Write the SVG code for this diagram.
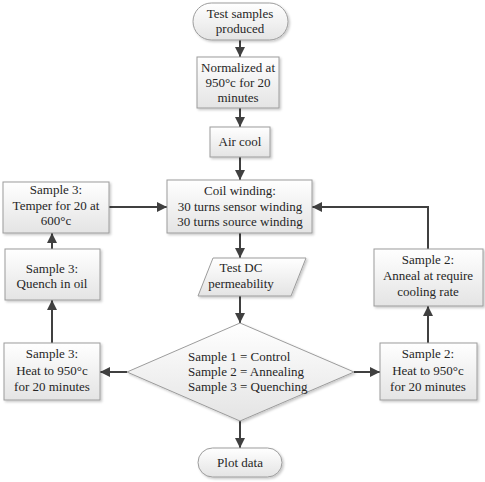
<svg xmlns="http://www.w3.org/2000/svg" width="485" height="482" viewBox="0 0 485 482" font-family="'Liberation Serif', 'DejaVu Serif', serif">
  <defs>
    <linearGradient id="boxFill" x1="0" y1="0" x2="0" y2="1">
      <stop offset="0" stop-color="#ffffff"/>
      <stop offset="1" stop-color="#e4e4e4"/>
    </linearGradient>
    <filter id="shadow" x="-10%" y="-10%" width="130%" height="130%">
      <feDropShadow dx="1.5" dy="1.5" stdDeviation="1" flood-color="#000" flood-opacity="0.22"/>
    </filter>
    <marker id="arrow" viewBox="0 0 10 10" refX="10" refY="5" markerWidth="5" markerHeight="5" orient="auto" markerUnits="strokeWidth">
      <path d="M0,0 L10,5 L0,10 z" fill="#404040"/>
    </marker>
  </defs>
  <style>
    .shape { fill: url(#boxFill); stroke: #9c9c9c; stroke-width: 1; filter: url(#shadow); }
    text { font-family: 'Liberation Serif', 'DejaVu Serif', serif; font-size: 13px; fill: #262626; text-anchor: middle; }
    text.left { text-anchor: start; }
    .conn { fill: none; stroke: #404040; stroke-width: 2; marker-end: url(#arrow); }
  </style>

  <rect width="485" height="482" fill="#ffffff"/>

  <!-- connectors -->
  <g id="connectors">
    <line class="conn" x1="240" y1="40" x2="240" y2="57"/>
    <line class="conn" x1="240" y1="108" x2="240" y2="127"/>
    <line class="conn" x1="240" y1="157" x2="240" y2="180"/>
    <line class="conn" x1="240" y1="233" x2="240" y2="258"/>
    <line class="conn" x1="240" y1="296" x2="240" y2="323"/>
    <line class="conn" x1="240" y1="421" x2="240" y2="448"/>
    <line class="conn" x1="127" y1="372" x2="100" y2="372"/>
    <line class="conn" x1="354" y1="372" x2="380" y2="372"/>
    <line class="conn" x1="52" y1="343" x2="52" y2="300"/>
    <line class="conn" x1="52" y1="249" x2="52" y2="233"/>
    <line class="conn" x1="109" y1="207" x2="167" y2="207"/>
    <line class="conn" x1="428" y1="343" x2="428" y2="306"/>
    <polyline class="conn" points="428,249 428,207 312,207"/>
  </g>

  <g id="start">
    <rect class="shape" x="193" y="3" width="95" height="37" rx="18.5"/>
    <text x="240" y="18">Test samples</text>
    <text x="240" y="33">produced</text>
  </g>

  <g id="normalize">
    <rect class="shape" x="197" y="57" width="82" height="51"/>
    <text x="238" y="72">Normalized at</text>
    <text x="238" y="87">950°c for 20</text>
    <text x="238" y="102">minutes</text>
  </g>

  <g id="air-cool">
    <rect class="shape" x="210" y="127" width="60" height="30"/>
    <text x="240" y="146">Air cool</text>
  </g>

  <g id="coil-winding">
    <rect class="shape" x="167" y="180" width="145" height="53"/>
    <text x="240" y="195">Coil winding:</text>
    <text x="240" y="211">30 turns sensor winding</text>
    <text x="240" y="226">30 turns source winding</text>
  </g>

  <g id="test-dc">
    <polygon class="shape" points="213,258 306,258 291,296 198,296"/>
    <text x="241" y="272">Test DC</text>
    <text x="241" y="288">permeability</text>
  </g>

  <g id="decision">
    <polygon class="shape" points="240,323 354,372 240,421 127,372"/>
    <text class="left" x="188" y="361">Sample 1 = Control</text>
    <text class="left" x="188" y="376">Sample 2 = Annealing</text>
    <text class="left" x="188" y="391">Sample 3 = Quenching</text>
  </g>

  <g id="plot-data">
    <rect class="shape" x="198" y="448" width="84" height="29" rx="14.5"/>
    <text x="240" y="467">Plot data</text>
  </g>

  <g id="s3-temper">
    <rect class="shape" x="3" y="182" width="106" height="51"/>
    <text x="56" y="194">Sample 3:</text>
    <text x="56" y="210">Temper for 20 at</text>
    <text x="56" y="225">600°c</text>
  </g>

  <g id="s3-quench">
    <rect class="shape" x="5" y="249" width="95" height="51"/>
    <text x="52" y="273">Sample 3:</text>
    <text x="52" y="288">Quench in oil</text>
  </g>

  <g id="s3-heat">
    <rect class="shape" x="4" y="343" width="96" height="57"/>
    <text x="52" y="358">Sample 3:</text>
    <text x="52" y="375">Heat to 950°c</text>
    <text x="52" y="391">for 20 minutes</text>
  </g>

  <g id="s2-anneal">
    <rect class="shape" x="374" y="249" width="109" height="57"/>
    <text x="428" y="264">Sample 2:</text>
    <text x="428" y="280">Anneal at require</text>
    <text x="428" y="296">cooling rate</text>
  </g>

  <g id="s2-heat">
    <rect class="shape" x="380" y="343" width="97" height="57"/>
    <text x="428" y="358">Sample 2:</text>
    <text x="428" y="375">Heat to 950°c</text>
    <text x="428" y="391">for 20 minutes</text>
  </g>
</svg>
